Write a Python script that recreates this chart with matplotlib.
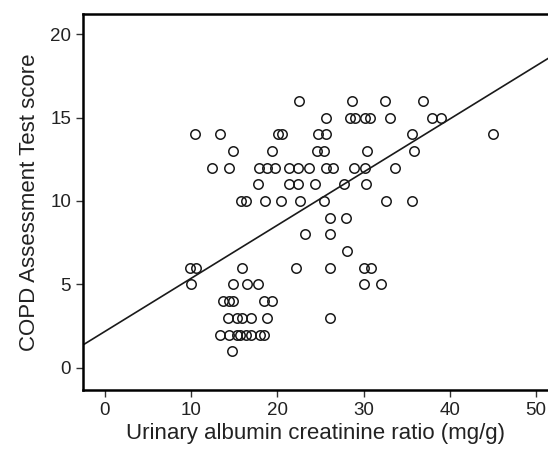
import matplotlib
matplotlib.use("Agg")
import matplotlib.pyplot as plt
import numpy as np

plt.rcParams['font.family'] = ['Liberation Sans', 'DejaVu Sans']

# points grouped by CAT score (y), x = urinary ACR
uacr = [22.5, 28.7, 32.5, 36.9,
        25.6, 28.4, 29.0, 30.2, 30.7, 33.1, 37.9, 39.0,
        10.4, 13.3, 20.1, 20.5, 24.7, 25.7, 35.6, 45.0,
        14.8, 19.4, 24.6, 25.4, 30.4, 35.9,
        12.4, 14.4, 17.9, 18.8, 19.7, 21.4, 22.4, 23.7, 25.7, 26.4, 28.9, 30.2, 33.7,
        17.7, 21.3, 22.4, 24.4, 27.7, 30.3,
        15.8, 16.4, 18.6, 20.4, 22.6, 25.4, 32.6, 35.6,
        26.1, 28.0,
        23.2, 26.1,
        28.1,
        9.9, 10.6, 15.85, 22.2, 26.1, 30.0, 30.9,
        10.0, 14.8, 16.5, 17.7, 30.0, 32.0,
        13.65, 14.4, 14.9, 18.4, 19.4,
        14.3, 15.35, 15.85, 16.9, 18.8, 26.1,
        13.3, 14.4, 15.35, 15.7, 16.4, 16.9, 18.0, 18.5,
        14.7]
cat = [16] * 4 + [15] * 8 + [14] * 8 + [13] * 6 + [12] * 13 + [11] * 6 + [10] * 8 \
    + [9] * 2 + [8] * 2 + [7] * 1 + [6] * 7 + [5] * 6 + [4] * 5 + [3] * 6 + [2] * 8 + [1] * 1

# fitted line
intercept = 2.19
slope = 0.318

fig = plt.figure(figsize=(5.48, 4.5), dpi=100)
ax = fig.add_axes([83 / 548, 60 / 450, 1 - 83 / 548, 376 / 450])

ax.plot(uacr, cat, 'o', mfc='none', mec='#1a1a1a', ms=6.8, mew=1.1)
xl = np.array([-2.55, 51.4])
ax.plot(xl, intercept + slope * xl, color='#1a1a1a', lw=1.2)

ax.set_xlim(-2.55, 51.4)
ax.set_ylim(-1.32, 21.2)
ax.set_xticks([0, 10, 20, 30, 40, 50])
ax.set_yticks([0, 5, 10, 15, 20])

for s in ['left', 'bottom', 'top']:
    ax.spines[s].set_linewidth(1.8)
ax.spines['right'].set_visible(False)
ax.tick_params(length=5, width=1, labelsize=13.5, color='#333333', labelcolor='#222222')

ax.set_xlabel('Urinary albumin creatinine ratio (mg/g)', fontsize=16, color='#222222', labelpad=3)
ax.set_ylabel('COPD Assessment Test score', fontsize=16, color='#222222', labelpad=7)

fig.savefig('out.png', dpi=100)
